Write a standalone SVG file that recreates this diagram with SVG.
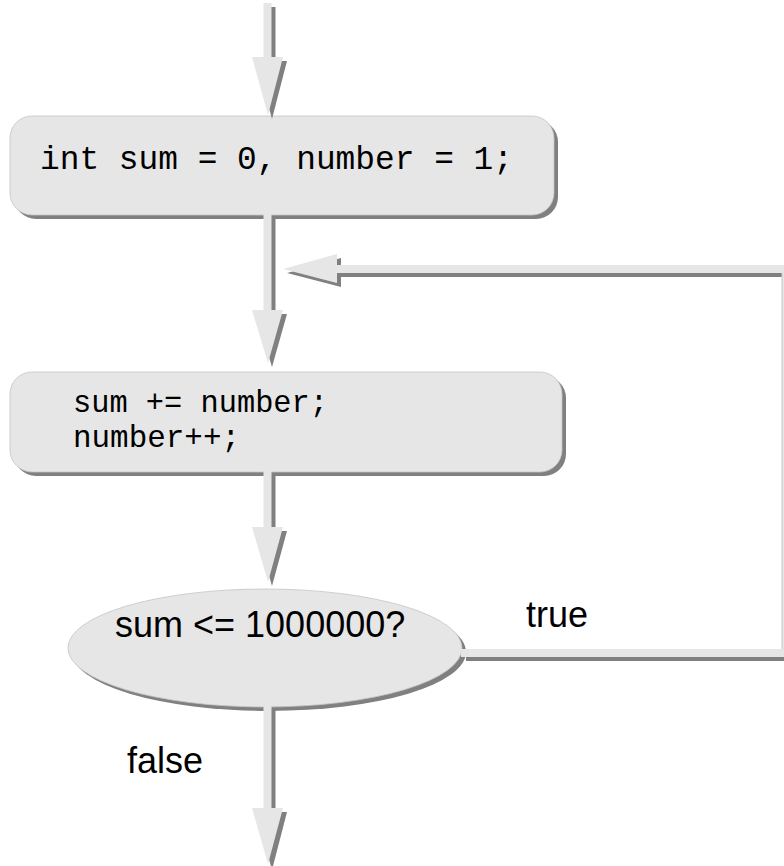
<svg xmlns="http://www.w3.org/2000/svg" width="784" height="866" viewBox="0 0 784 866">
  <style>
    .lt { fill: #e6e6e6; }
    .sh { fill: #808080; }
    .node { fill: #e6e6e6; stroke: #c4c4c4; stroke-width: 0.8; }
    .code { font-family: "Liberation Mono", "Courier New", monospace; fill: #000; }
    .lbl { font-family: "Liberation Sans", Arial, sans-serif; font-size: 36px; fill: #000; }
  </style>
  <rect width="784" height="866" fill="#ffffff"/>

  <g id="init">
    <rect class="sh" x="14" y="120" width="544" height="99" rx="22"/>
    <rect class="node" x="10" y="116" width="544" height="99" rx="22"/>
    <text class="code" x="40" y="169" font-size="33" textLength="473" lengthAdjust="spacingAndGlyphs">int sum = 0, number = 1;</text>
  </g>

  <g id="body">
    <rect class="sh" x="14" y="376" width="552" height="100" rx="22"/>
    <rect class="node" x="10" y="372" width="552" height="100" rx="22"/>
    <text class="code" x="73" y="412" font-size="30.5" textLength="255" lengthAdjust="spacingAndGlyphs">sum += number;</text>
    <text class="code" x="73" y="447" font-size="30.5" textLength="167" lengthAdjust="spacingAndGlyphs">number++;</text>
  </g>

  <g id="decision">
    <ellipse class="sh" cx="269" cy="652" rx="197" ry="59"/>
    <ellipse class="node" cx="265" cy="648" rx="197" ry="59"/>
    <text class="lbl" x="115" y="637">sum &lt;= 1000000?</text>
  </g>

  <g id="connectors">
    <!-- shadows -->
    <rect class="sh" x="267.5" y="7" width="8" height="54"/>
    <polygon class="sh" points="256,61 287,61 272,119"/>
    <rect class="sh" x="267.5" y="219" width="8" height="95"/>
    <polygon class="sh" points="256,314 287,314 272,367"/>
    <rect class="sh" x="267.5" y="476" width="8" height="55"/>
    <polygon class="sh" points="256,531 287,531 272,586"/>
    <rect class="sh" x="267.5" y="710" width="8" height="102"/>
    <polygon class="sh" points="256,812 287,812 272,870"/>
    <rect class="sh" x="466" y="657" width="330" height="4"/>
    <rect class="sh" x="341" y="269" width="445" height="8"/>
    <polygon class="sh" points="341,258 287,273 341,287"/>

    <!-- light shapes -->
    <rect class="lt" x="263.5" y="3" width="8" height="54"/>
    <polygon class="lt" points="252,57 283,57 268,115"/>
    <rect class="lt" x="263.5" y="214" width="8" height="96"/>
    <polygon class="lt" points="252,310 283,310 268,363"/>
    <rect class="lt" x="263.5" y="471" width="8" height="56"/>
    <polygon class="lt" points="252,527 283,527 268,582"/>
    <rect class="lt" x="263.5" y="705" width="8" height="103"/>
    <polygon class="lt" points="252,808 283,808 268,864"/>

    <rect class="lt" x="461" y="649" width="329" height="8"/>
    <rect class="lt" x="782" y="265" width="8" height="392"/>
    <line x1="782" y1="265" x2="782" y2="649" stroke="#c8c8c8" stroke-width="1"/>
    <rect class="lt" x="336" y="265" width="450" height="8"/>
    <polygon class="lt" points="337,254 283,269 337,283"/>
  </g>

  <g id="labels">
    <text class="lbl" x="526" y="627">true</text>
    <text class="lbl" x="127" y="773">false</text>
  </g>
</svg>
